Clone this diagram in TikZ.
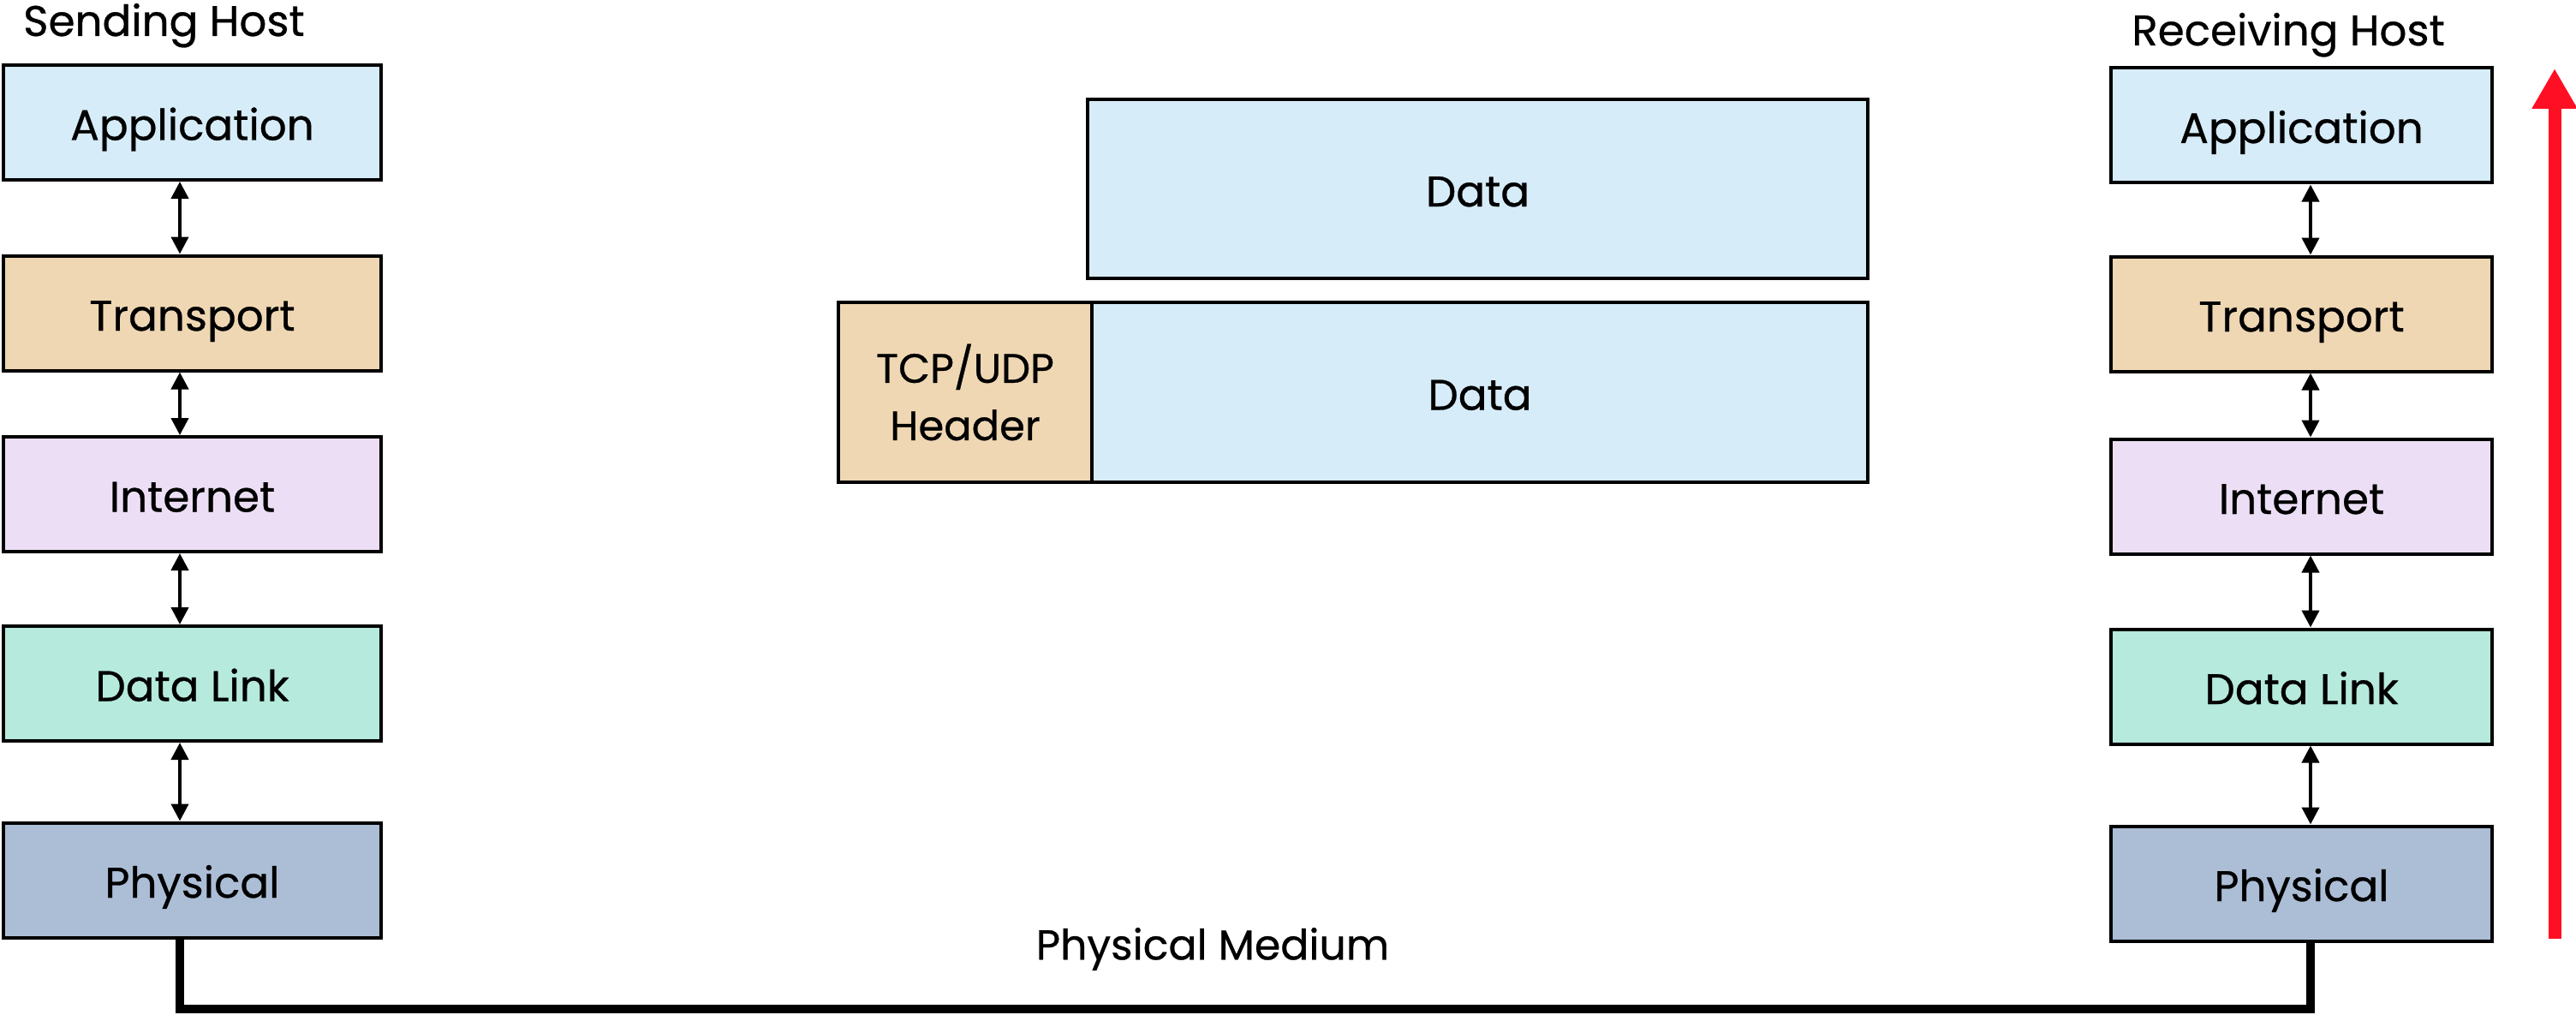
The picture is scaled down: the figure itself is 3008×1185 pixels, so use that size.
\documentclass[tikz,border=0pt]{standalone}
\usepackage{fontspec}
\setmainfont{Poppins}[FakeBold=0.6]
\usetikzlibrary{arrows.meta}
\definecolor{appc}{RGB}{214,236,249}
\definecolor{trnc}{RGB}{239,215,180}
\definecolor{intc}{RGB}{236,223,245}
\definecolor{dlkc}{RGB}{181,234,220}
\definecolor{phyc}{RGB}{172,190,214}
\definecolor{redc}{RGB}{255,15,35}
\begin{document}
\begin{tikzpicture}[x=1pt,y=-1pt,
  layer/.style={draw=black,line width=4pt,minimum width=441pt,minimum height=134pt,inner sep=0pt,text height=41pt,text depth=0pt,font=\fontsize{50}{60}\selectfont},
  rlayer/.style={layer,minimum width=445pt},
  pkt/.style={draw=black,line width=4pt,minimum height=209pt,inner sep=0pt,font=\fontsize{50}{60}\selectfont},
  updown/.style={line width=4pt,{Triangle[width=20pt,length=20pt]}-{Triangle[width=20pt,length=20pt]}},
  lbl/.style={inner sep=0pt,font=\fontsize{50}{60}\selectfont}]
\useasboundingbox (0,0) rectangle (3008,1185);
% left stack
\node[layer,fill=appc] (LApp) at (224.5,143) {Application};
\node[layer,fill=trnc] (LTrn) at (224.5,365.5) {Transport};
\node[layer,fill=intc] (LInt) at (224.5,577) {Internet};
\node[layer,fill=dlkc] (LDlk) at (224.5,798) {Data Link};
\node[layer,fill=phyc] (LPhy) at (224.5,1027.5) {Physical};
% right stack
\node[rlayer,fill=appc] (RApp) at (2687.5,146.5) {Application};
\node[rlayer,fill=trnc] (RTrn) at (2687.5,366.5) {Transport};
\node[rlayer,fill=intc] (RInt) at (2687.5,579.5) {Internet};
\node[rlayer,fill=dlkc] (RDlk) at (2687.5,801.5) {Data Link};
\node[rlayer,fill=phyc] (RPhy) at (2687.5,1031.5) {Physical};
% titles
\node[lbl,anchor=base west] (shost) at (27,42) {Sending Host};
\node[lbl,anchor=base] (rhost) at (2672,53) {Receiving Host};
\node[lbl,font=\fontsize{49}{60}\selectfont] (pmed) at (1416,1108) {Physical Medium};
% packets
\node[pkt,fill=appc,minimum width=911pt,text height=41pt,text depth=0pt] (data1) at (1725.5,220.5) {Data};
\node[pkt,fill=appc,minimum width=906pt,minimum height=210pt,text height=41pt,text depth=0pt] (data2) at (1728,458) {Data};
\node[pkt,fill=trnc,minimum width=296pt,minimum height=210pt,align=center,font=\fontsize{48}{67}\selectfont] (hdr) at (1127,458) {TCP/UDP\\Header};
% left arrows
\foreach \a/\b in {LApp/LTrn,LTrn/LInt,LInt/LDlk,LDlk/LPhy}{
  \draw[updown] ([xshift=-14.5pt]\a.south) -- ([xshift=-14.5pt]\b.north);
}
\foreach \a/\b in {RApp/RTrn,RTrn/RInt,RInt/RDlk,RDlk/RPhy}{
  \draw[updown] ([xshift=10.5pt]\a.south) -- ([xshift=10.5pt]\b.north);
}
% physical medium link
\coordinate (lb) at (210,1178);
\coordinate (rb) at (2698,1178);
\draw[line width=10pt] (LPhy.south -| lb) -- (lb) -- (rb) -- (RPhy.south -| rb);
% red arrow
\coordinate (rs) at (2983,1096);
\coordinate (re) at (2983,80);
\draw[redc,line width=15pt,-{Triangle[width=50pt,length=47pt]}] (rs) -- (re);
\end{tikzpicture}
\end{document}
